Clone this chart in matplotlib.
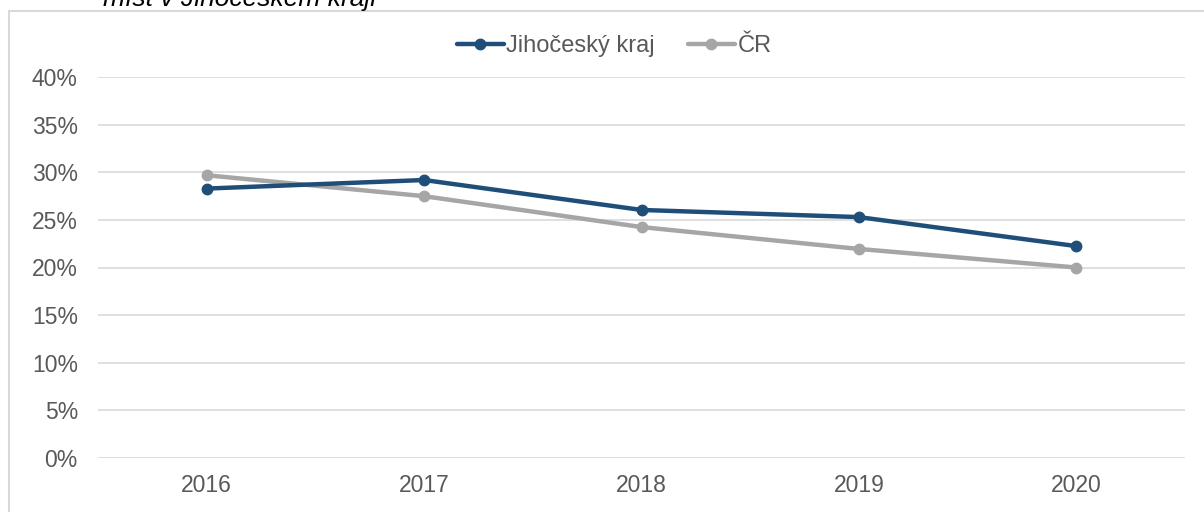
import matplotlib
matplotlib.use("Agg")
import matplotlib.pyplot as plt
from matplotlib.patches import Rectangle
from matplotlib.ticker import FuncFormatter

years = ["2016", "2017", "2018", "2019", "2020"]
jihocesky = [28.3, 29.2, 26.05, 25.3, 22.25]
cr = [29.7, 27.5, 24.25, 21.95, 20.0]
yticks = [0, 5, 10, 15, 20, 25, 30, 35, 40]
title_text = "míst v Jihočeském kraji"

plt.rcParams['font.family'] = ['Liberation Sans', 'DejaVu Sans']

fig = plt.figure(figsize=(12.04, 5.12), dpi=100)
ax = fig.add_axes([98/1204, 54.3/512, (1185-98)/1204, (457.7-77.3)/512])

# outer frame (left and top edges visible)
fig.patches.append(Rectangle((9/1204, -0.05), 1.2, 1 - 11/512 + 0.05,
                             transform=fig.transFigure, fill=False,
                             edgecolor="#d9d9d9", linewidth=1.5))

fig.text(103/1204, 1 - 6/512, title_text, fontsize=19, style='italic',
         color='black', ha='left', va='baseline')

x = list(range(len(years)))
blue = "#1f4e79"
grey = "#a6a6a6"
ax.plot(x, jihocesky, color=blue, linewidth=3.2, marker='o', markersize=7.5,
        label="Jihočeský kraj", solid_capstyle='round', zorder=4)
ax.plot(x, cr, color=grey, linewidth=3.2, marker='o', markersize=7.5,
        label="ČR", solid_capstyle='round', zorder=3)

ax.set_xlim(-0.5, len(years) - 0.5)
ax.set_ylim(0, 40)
ax.set_yticks(yticks)
ax.yaxis.set_major_formatter(FuncFormatter(lambda v, p: f"{int(v)}%"))
ax.set_xticks(x)
ax.set_xticklabels(years)
ax.tick_params(axis='both', length=0, labelsize=16.5, colors="#595959")
ax.tick_params(axis='y', pad=14.5)
ax.tick_params(axis='x', pad=12)
for s in ax.spines.values():
    s.set_visible(False)
ax.grid(axis='y', color="#d9d9d9", linewidth=1.2)
ax.set_axisbelow(True)

leg = fig.legend(loc='center', bbox_to_anchor=(614/1204, 1 - 46/512), ncol=2,
                 frameon=False, fontsize=17, handlelength=2.0,
                 handletextpad=0.1, columnspacing=1.4, borderaxespad=0)
for t in leg.get_texts():
    t.set_color("#595959")

fig.savefig("out.png", dpi=100)
